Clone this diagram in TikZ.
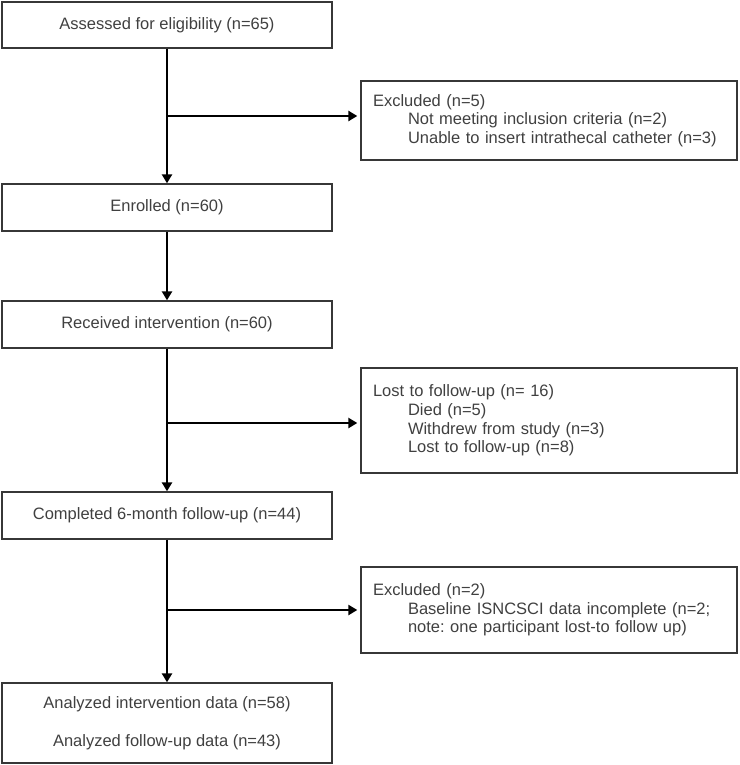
\documentclass[tikz,border=0pt]{standalone}
\usepackage{fontspec}
\setmainfont{Liberation Sans}
\usetikzlibrary{arrows.meta}
\definecolor{txt}{RGB}{64,64,64}
\definecolor{edge}{RGB}{55,55,55}
\begin{document}
\frenchspacing
\begin{tikzpicture}[x=1pt,y=-1pt,
  box/.style={draw=edge, line width=1.3pt, minimum width=330pt, minimum height=47pt,
    inner sep=0pt, text=txt, font=\fontsize{16.5}{18.7}\selectfont, align=center},
  sidebox/.style={draw=edge, line width=1.3pt, text width=352pt, inner xsep=12pt,
    inner ysep=0pt, align=left, text=txt, font=\fontsize{16.5}{18.6}\selectfont},
  flow/.style={line width=2.7pt, -{Triangle[length=9pt,width=10pt]}},
  branch/.style={flow, shorten >=3pt}]
\useasboundingbox (0,0) rectangle (739,765);

% main column
\node[box, minimum height=46pt] (a)  at (167,25)    {Assessed for eligibility (n=65)};
\node[box]                      (en) at (167,207.5) {Enrolled (n=60)};
\node[box]                      (rc) at (167,324.5) {Received intervention (n=60)};
\node[box]                      (cp) at (167,515.5) {Completed 6-month follow-up (n=44)};
\node[box, minimum height=80pt] (an) at (167,723)
  {Analyzed intervention data (n=58)\\[19.4pt]Analyzed follow-up data (n=43)};

% side boxes
\node[sidebox, minimum height=79pt] (ex1) at (549,120.5)
  {Excluded (n=5)\\
   \hspace*{35pt}Not meeting inclusion criteria (n=2)\\
   \hspace*{35pt}Unable to insert intrathecal catheter (n=3)};
\node[sidebox, minimum height=105pt] (lost) at (549,420.5)
  {Lost to follow-up (n= 16)\\
   \hspace*{35pt}Died (n=5)\\
   \hspace*{35pt}Withdrew from study (n=3)\\
   \hspace*{35pt}Lost to follow-up (n=8)};
\node[sidebox, minimum height=86pt] (ex2) at (549,610)
  {Excluded (n=2)\\
   \hspace*{35pt}Baseline ISNCSCI data incomplete (n=2;\\
   \hspace*{35pt}note: one participant lost-to follow up)};

% junctions
\coordinate (j1) at (167,116);
\coordinate (j2) at (167,423);
\coordinate (j3) at (167,610);

% connectors
\draw[flow] (a.south) -- (en.north);
\draw[branch] (j1) -- (j1 -| ex1.west);
\draw[flow] (en.south) -- (rc.north);
\draw[flow] (rc.south) -- (cp.north);
\draw[branch] (j2) -- (j2 -| lost.west);
\draw[flow] (cp.south) -- (an.north);
\draw[branch] (j3) -- (j3 -| ex2.west);
\end{tikzpicture}
\end{document}
